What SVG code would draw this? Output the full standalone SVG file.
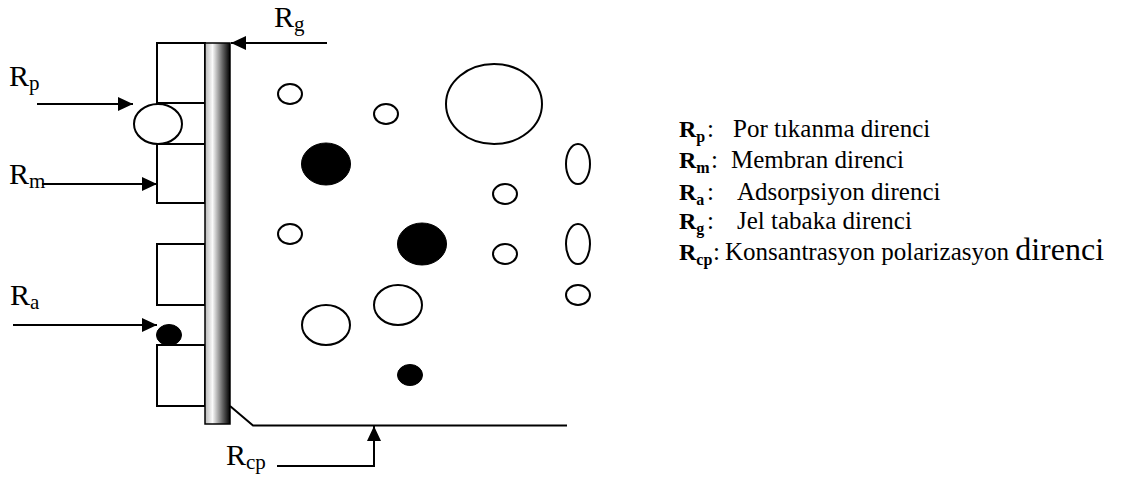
<svg xmlns="http://www.w3.org/2000/svg" width="1147" height="480" viewBox="0 0 1147 480">
<style>
  text{font-family:"Liberation Serif","Times New Roman",serif;fill:#000}
  .lab{font-size:30px}
  .sub{font-size:21px}
  .lg{font-size:25px}
  .lgb{font-size:24px;font-weight:bold}
  .lgs{font-size:16px;font-weight:bold}
  .ln{stroke:#000;stroke-width:2;fill:none}
  .box{fill:#fff;stroke:#000;stroke-width:2}
  .op{fill:#fff;stroke:#000;stroke-width:2}
  .fl{fill:#000;stroke:#000;stroke-width:1}
</style>
<defs>
  <linearGradient id="mem" x1="0" y1="0" x2="1" y2="0">
    <stop offset="0" stop-color="#b8b8b8"/>
    <stop offset="0.3" stop-color="#fafafa"/>
    <stop offset="0.7" stop-color="#666"/>
    <stop offset="1" stop-color="#000"/>
  </linearGradient>
  <marker id="ah" viewBox="0 0 15 14" refX="15" refY="7" markerWidth="15" markerHeight="14" markerUnits="userSpaceOnUse" orient="auto">
    <path d="M0,0 L15,7 L0,14 Z" fill="#000"/>
  </marker>
</defs>
<rect width="1147" height="480" fill="#fff"/>

<g id="membrane">
  <rect class="box" x="157" y="43" width="48" height="60"/>
  <rect class="box" x="157" y="103" width="48" height="41"/>
  <rect class="box" x="157" y="144" width="48" height="59"/>
  <rect class="box" x="157" y="244" width="48" height="61"/>
  <rect class="box" x="157" y="345" width="48" height="61"/>
  <rect x="205" y="43" width="25" height="381" fill="url(#mem)" stroke="#000" stroke-width="1.5"/>
</g>

<g id="pore-block">
  <ellipse class="op" cx="158" cy="124" rx="24" ry="20"/>
</g>
<g id="adsorbed">
  <ellipse class="fl" cx="169" cy="335" rx="12.5" ry="10.5"/>
</g>

<g id="particles">
  <ellipse class="op" cx="290" cy="94" rx="12" ry="10"/>
  <ellipse class="op" cx="386" cy="114" rx="12" ry="10"/>
  <ellipse class="op" cx="494" cy="104" rx="48" ry="40"/>
  <ellipse class="fl" cx="326" cy="164" rx="24.5" ry="21"/>
  <ellipse class="op" cx="578" cy="164" rx="12" ry="20"/>
  <ellipse class="op" cx="505" cy="194" rx="12" ry="10"/>
  <ellipse class="op" cx="290" cy="234" rx="12" ry="10"/>
  <ellipse class="fl" cx="422" cy="244" rx="24.5" ry="21"/>
  <ellipse class="op" cx="505" cy="254" rx="12" ry="10"/>
  <ellipse class="op" cx="578" cy="244" rx="12" ry="20"/>
  <ellipse class="op" cx="578" cy="295" rx="12" ry="10"/>
  <ellipse class="op" cx="398" cy="305" rx="24" ry="20"/>
  <ellipse class="op" cx="326" cy="325" rx="24" ry="20"/>
  <ellipse class="fl" cx="410" cy="375" rx="12.5" ry="10.5"/>
</g>

<g id="connectors">
  <line class="ln" x1="327" y1="43" x2="231" y2="43" marker-end="url(#ah)"/>
  <line class="ln" x1="37" y1="104" x2="133" y2="104" marker-end="url(#ah)"/>
  <line class="ln" x1="42" y1="184" x2="157" y2="184" marker-end="url(#ah)"/>
  <line class="ln" x1="13" y1="325" x2="157" y2="325" marker-end="url(#ah)"/>
  <polyline class="ln" points="230,406 253,425.5 567,425.5"/>
  <polyline class="ln" points="277,466 374,466 374,426" marker-end="url(#ah)"/>
</g>

<g id="labels">
  <text class="lab" x="274" y="27">R<tspan class="sub" dy="4">g</tspan></text>
  <text class="lab" x="9" y="86">R<tspan class="sub" dy="4">p</tspan></text>
  <text class="lab" x="9" y="184">R<tspan class="sub" dy="4">m</tspan></text>
  <text class="lab" x="10" y="305">R<tspan class="sub" dy="4">a</tspan></text>
  <text class="lab" x="226" y="465">R<tspan class="sub" dy="4">cp</tspan></text>
</g>

<g id="legend">
  <text class="lgb" x="679" y="137">R<tspan class="lgs" dy="5">p</tspan></text>
  <text class="lg" x="707" y="137">:</text>
  <text class="lg" x="733" y="137">Por tıkanma direnci</text>

  <text class="lgb" x="679" y="168">R<tspan class="lgs" dy="5">m</tspan></text>
  <text class="lg" x="711" y="168">:</text>
  <text class="lg" x="731" y="168">Membran direnci</text>

  <text class="lgb" x="679" y="200">R<tspan class="lgs" dy="5">a</tspan></text>
  <text class="lg" x="707" y="200">:</text>
  <text class="lg" x="737" y="200">Adsorpsiyon direnci</text>

  <text class="lgb" x="679" y="229">R<tspan class="lgs" dy="5">g</tspan></text>
  <text class="lg" x="707" y="229">:</text>
  <text class="lg" x="737" y="229">Jel tabaka direnci</text>

  <text class="lgb" x="679" y="260">R<tspan class="lgs" dy="5">cp</tspan></text>
  <text class="lg" x="713" y="260">:</text>
  <text class="lg" x="725" y="260">Konsantrasyon polarizasyon <tspan font-size="32">direnci</tspan></text>
</g>
</svg>
